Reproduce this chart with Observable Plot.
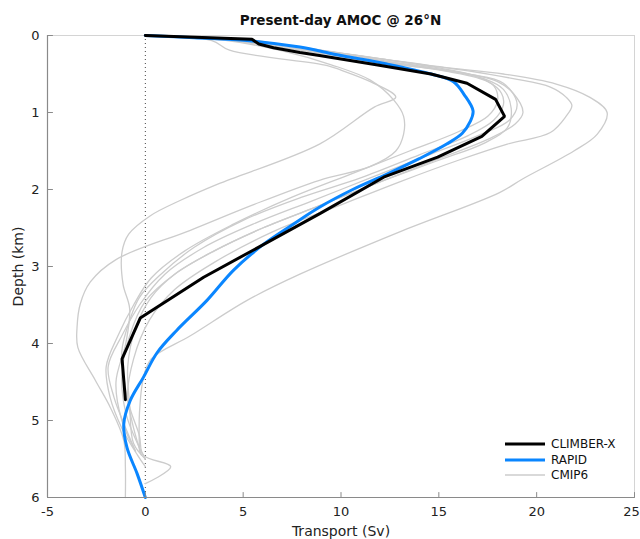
<!DOCTYPE html>
<html><head><meta charset="utf-8">
<script src="https://cdn.jsdelivr.net/npm/d3@7"></script>
<script src="https://cdn.jsdelivr.net/npm/@observablehq/plot@0.6"></script>
<style>
body{margin:0;background:#fff;font-family:"DejaVu Sans",sans-serif;}
#wrap{position:relative;width:640px;height:539px;overflow:hidden;}
#title{position:absolute;top:12px;left:47px;width:587px;text-align:center;font-weight:bold;font-size:13.5px;color:#111;line-height:16px;}
.lg{position:absolute;left:505px;font-size:12px;color:#111;line-height:14px;height:14px;display:flex;align-items:center;}
.lg svg{margin-right:6px;}
</style></head><body>
<div id="wrap"><div id="title">Present-day AMOC @ 26°N</div></div>
<script>
// ---- data: [transport (Sv), depth (km)] ----
const xTicks = [-5, 0, 5, 10, 15, 20, 25];
const yTicks = [0, 1, 2, 3, 4, 5, 6];

const climberX = [[0,0],[5.45,0.05],[5.8,0.11],[6.55,0.16],[7.9,0.22],[8.9,0.26],[11.8,0.38],[14.6,0.5],[16.44,0.62],[17.9,0.83],[18.36,1.05],[17.2,1.31],[14.94,1.58],[12.18,1.84],[8.94,2.31],[2.98,3.14],[-0.26,3.67],[-1.19,4.2],[-1.02,4.73]];

const rapid = [[0,0],[2.5,0.03],[5.2,0.065],[7.9,0.15],[9.8,0.25],[12.35,0.37],[14.6,0.5],[15.75,0.6],[16.3,0.77],[16.75,0.98],[16.6,1.12],[16.2,1.27],[15.4,1.41],[14,1.6],[12.35,1.8],[10.6,2.0],[8.9,2.23],[7.5,2.46],[6.05,2.71],[4.5,3.05],[3.15,3.44],[1.6,3.83],[0.6,4.12],[-0.1,4.44],[-0.77,4.74],[-1.1,5.04],[-0.94,5.35],[-0.42,5.69],[0,6]];

const cmipA = [[0,0],[4,0.05],[8,0.16],[12,0.3],[15.5,0.42],[18.3,0.5],[21,0.63],[22.7,0.8],[23.6,1.0],[23.1,1.28],[21.9,1.5],[19.3,1.86],[18.1,2.04],[13,2.55],[7.9,3.1],[5.2,3.44],[2.3,3.9],[0.3,4.2],[-0.1,4.45],[-0.3,4.9],[-0.3,5.4]];
const cmipB = [[0,0],[4.5,0.06],[8.5,0.18],[13,0.34],[16.5,0.46],[18.8,0.56],[20.7,0.67],[21.5,0.8],[21.8,0.91],[21.5,1.05],[20.7,1.26],[18.5,1.41],[16,1.62],[13,1.9],[10,2.2],[6.5,2.55],[3.5,2.95],[1.5,3.3],[0.2,3.7],[-0.6,4.2],[-0.9,4.7],[-0.3,5.2],[-0.1,5.45],[1.3,5.6],[0,5.82]];
const cmipC = [[0,0],[3.5,0.04],[6,0.12],[9.5,0.25],[13,0.38],[16,0.48],[18,0.6],[18.8,0.75],[19.3,1.0],[18.9,1.15],[17.5,1.35],[15,1.6],[12,1.9],[9,2.2],[6,2.5],[3.5,2.8],[1.5,3.1],[0.3,3.4],[-0.5,3.8],[-0.9,4.3],[-0.8,4.8],[-0.6,5.3],[0,5.5]];
const cmipD = [[0,0],[4,0.05],[7,0.14],[10,0.26],[13.5,0.38],[16.5,0.5],[18.3,0.62],[19.0,0.89],[18.6,1.1],[17,1.3],[14.5,1.55],[11.5,1.85],[8.5,2.15],[5.5,2.45],[3,2.75],[1,3.1],[-0.3,3.5],[-1.2,3.9],[-1.9,4.3],[-1.6,4.7],[-1,5.1],[-0.5,5.4]];
const cmipE = [[0,0],[5,0.06],[8,0.17],[11.5,0.3],[15,0.44],[17.3,0.56],[18.3,0.7],[18.7,0.95],[18.5,1.2],[17.3,1.4],[15,1.62],[12,1.9],[9,2.2],[6,2.5],[3.5,2.8],[1.5,3.1],[0,3.45],[-0.8,3.9],[-1.2,4.4],[-1,4.9],[-0.4,5.3],[0,5.5]];
const cmipF = [[0,0],[3.4,0.065],[4.3,0.19],[9.3,0.39],[10,0.45],[11.5,0.6],[12.8,0.8],[11.7,0.93],[8.9,1.41],[3.7,1.93],[1.8,2.14],[0.26,2.34],[-0.85,2.58],[-1.19,2.81],[-1.14,3.23],[-0.8,3.55],[-1.0,4.0],[-1.5,4.5],[-1.2,5.0],[-0.5,5.4]];
const cmipG = [[0,0],[4,0.06],[7,0.2],[9.5,0.38],[11.5,0.58],[12.7,0.84],[13.2,1.05],[13.2,1.28],[12.8,1.5],[11.5,1.7],[8.9,1.88],[5.5,2.2],[2.3,2.53],[-1.5,2.91],[-2.81,3.2],[-3.32,3.48],[-3.49,3.79],[-3.45,4.05],[-2.55,4.48],[-1.79,4.83],[-1.1,5.26],[-1.02,5.6],[-1.02,6.0]];
const cmipH = [[0,0],[5.5,0.06],[8.5,0.2],[12,0.34],[15.5,0.47],[17.5,0.6],[18.2,0.75],[18.3,0.9],[17.8,1.1],[16.5,1.3],[14,1.55],[11,1.85],[8,2.1],[5,2.4],[2.5,2.75],[0.8,3.1],[-0.3,3.4],[-0.8,3.7],[-1.2,4.1],[-1.0,4.6],[-0.6,5.1],[-0.2,5.45]];
const cmipI = [[0,0],[3,0.04],[7,0.12],[10.5,0.25],[14,0.38],[16.8,0.52],[17.8,0.65],[18.0,0.85],[17.5,1.05],[16,1.25],[13.5,1.5],[10.5,1.8],[7.5,2.1],[4.5,2.45],[2,2.8],[0.3,3.15],[-0.6,3.5],[-1.4,3.9],[-2,4.3],[-1.8,4.7],[-1.2,5.1],[-0.4,5.45],[0,5.6]];
const cmipModels = [cmipA, cmipB, cmipC, cmipD, cmipE, cmipF, cmipG, cmipH, cmipI];

const seriesNames = ["CLIMBER-X", "RAPID", "CMIP6"];
const seriesColors = ["#000000", "#0a86ff", "#cccccc"];
const seriesWidths = [3, 3, 1.3];

const tickShape = {draw(ctx, l) { ctx.moveTo(0, 0); ctx.lineTo(0, -l); }};
const lastX = xTicks[xTicks.length - 1];

const chart = Plot.plot({
  width: 640, height: 539,
  marginLeft: 47, marginRight: 6, marginTop: 35, marginBottom: 42,
  style: {fontFamily: "DejaVu Sans, sans-serif", fontSize: "13px", background: "transparent"},
  x: {domain: [-5, 25]},
  y: {domain: [0, 6], reverse: true},
  marks: [
    Plot.frame({stroke: "#d4d4d4"}),
    Plot.ruleX([0], {stroke: "#444", strokeDasharray: "1,3", strokeWidth: 1}),
    ...cmipModels.map(m => Plot.line(m, {x: d => d[0], y: d => d[1], stroke: seriesColors[2], strokeWidth: seriesWidths[2], curve: "catmull-rom"})),
    Plot.line(rapid, {x: d => d[0], y: d => d[1], stroke: seriesColors[1], strokeWidth: seriesWidths[1], curve: "catmull-rom"}),
    Plot.line(climberX, {x: d => d[0], y: d => d[1], stroke: seriesColors[0], strokeWidth: seriesWidths[0], strokeLinejoin: "miter"}),
    Plot.ruleX([-5], {stroke: "#8a8a8a", strokeWidth: 1.2}),
    Plot.ruleY([6], {stroke: "#8a8a8a", strokeWidth: 1.2}),
    Plot.vector(xTicks, {x: d => d, y: () => 6, length: 5, rotate: 0, anchor: "start", shape: tickShape, stroke: "#8a8a8a", strokeWidth: 1}),
    Plot.vector(yTicks, {x: () => -5, y: d => d, length: 5, rotate: 90, anchor: "start", shape: tickShape, stroke: "#8a8a8a", strokeWidth: 1}),
    Plot.axisX(xTicks.filter(t => t !== lastX), {tickSize: 0, tickPadding: 9, tickFormat: d => String(d), label: null, fill: "#222", fontSize: 13}),
    Plot.axisX([lastX], {tickSize: 0, tickPadding: 9, dx: -3, tickFormat: d => String(d), label: null, fill: "#222", fontSize: 13}),
    Plot.axisY(yTicks, {tickSize: 0, tickPadding: 8, tickFormat: d => String(d), label: null, fill: "#222", fontSize: 13}),
    Plot.text(["Transport (Sv)"], {frameAnchor: "bottom", dy: 34, lineAnchor: "middle", textAnchor: "middle", fontSize: 14, fill: "#222"}),
    Plot.text(["Depth (km)"], {frameAnchor: "left", dx: -29, rotate: -90, textAnchor: "middle", lineAnchor: "middle", fontSize: 14, fill: "#222"})
  ]
});
const wrap = document.getElementById("wrap");
wrap.insertBefore(chart, wrap.firstChild);

// legend
const rowTops = [437, 452.5, 468];
seriesNames.forEach((name, i) => {
  const row = document.createElement("div");
  row.className = "lg";
  row.style.top = rowTops[i] + "px";
  row.innerHTML = `<svg width="40" height="6"><line x1="0" x2="40" y1="3" y2="3" stroke="${seriesColors[i]}" stroke-width="${seriesWidths[i]}"/></svg><span>${name}</span>`;
  wrap.appendChild(row);
});
</script>
</body></html>
